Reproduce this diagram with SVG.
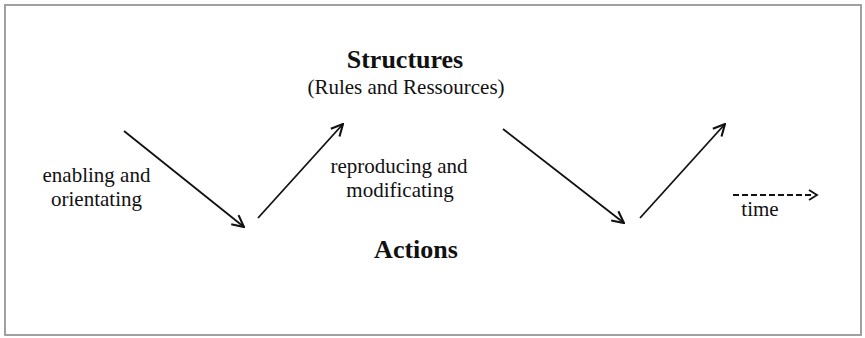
<svg xmlns="http://www.w3.org/2000/svg" width="865" height="338" viewBox="0 0 865 338">
  <style>
    .lbl { font-family: "Liberation Serif", "Times New Roman", serif; font-size: 21px; fill: #111; text-anchor: middle; }
    .head { font-family: "Liberation Serif", "Times New Roman", serif; font-size: 26px; font-weight: bold; fill: #111; text-anchor: middle; }
    .arrow { stroke: #111; stroke-width: 1.8; fill: none; marker-end: url(#open); }
    .dash { stroke: #111; stroke-width: 1.8; fill: none; stroke-dasharray: 6 3; }
  </style>
  <defs>
    <marker id="open" markerUnits="userSpaceOnUse" markerWidth="14" markerHeight="14" viewBox="0 0 12 12" refX="11" refY="6" orient="auto">
      <path d="M1,1 L11,6 L1,11" fill="none" stroke="#111" stroke-width="1.8" stroke-linejoin="miter"/>
    </marker>
  </defs>

  <rect x="0" y="0" width="865" height="338" fill="#fff"/>
  <!-- frame -->
  <rect x="5" y="5" width="856" height="330" fill="none" stroke="#a0a0a0" stroke-width="2"/>

  <g id="structures">
    <text class="head" x="405" y="68">Structures</text>
    <text class="lbl" x="406" y="94">(Rules and Ressources)</text>
  </g>

  <g id="actions">
    <text class="head" x="416" y="258">Actions</text>
  </g>

  <g id="enabling">
    <text class="lbl" x="96.5" y="182">enabling and</text>
    <text class="lbl" x="96.5" y="206">orientating</text>
  </g>

  <g id="reproducing">
    <text class="lbl" x="399" y="172.5">reproducing and</text>
    <text class="lbl" x="400" y="197">modificating</text>
  </g>

  <g id="time">
    <text class="lbl" x="760" y="216">time</text>
  </g>

  <g id="connectors">
    <line class="arrow" x1="124" y1="131" x2="244" y2="227"/>
    <line class="arrow" x1="258" y1="218" x2="343" y2="124"/>
    <line class="arrow" x1="503" y1="129" x2="624" y2="223"/>
    <line class="arrow" x1="640" y1="218" x2="725" y2="124"/>
    <line class="dash" x1="733" y1="195" x2="812" y2="195"/>
    <path d="M809,190 L817,195 L809,200" fill="none" stroke="#111" stroke-width="1.8"/>
  </g>
</svg>
